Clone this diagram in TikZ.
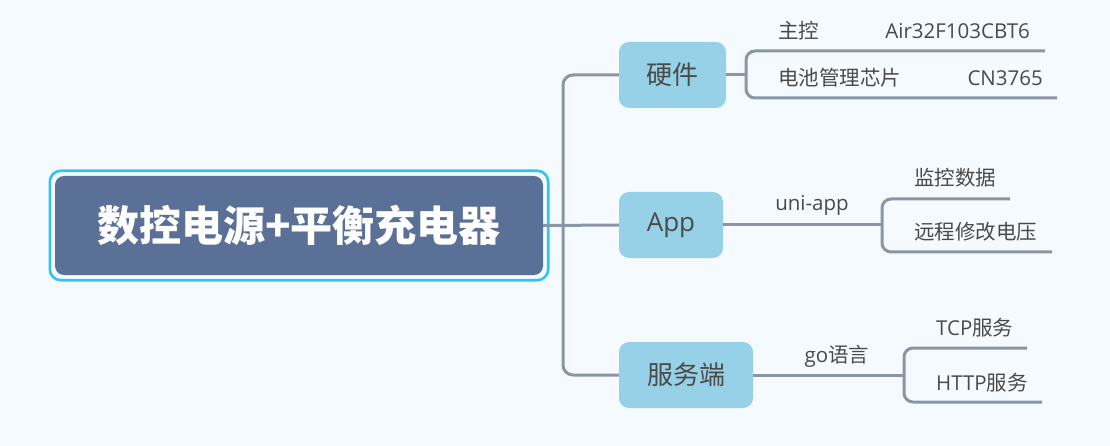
\documentclass[tikz,border=0pt]{standalone}
\usepackage{fontspec}
\setmainfont{Open Sans}
\newfontfamily\cjk{Noto Sans CJK SC}
\usetikzlibrary{calc}
\definecolor{bg}{HTML}{F5FAFE}
\definecolor{rootfill}{HTML}{5A7097}
\definecolor{rootborder}{HTML}{33C2F7}
\definecolor{boxfill}{HTML}{96D1E7}
\definecolor{linec}{HTML}{8B95A6}
\definecolor{txt}{HTML}{4A4A4A}
\begin{document}
\begin{tikzpicture}[x=1pt,y=-1pt,
  conn/.style={draw=linec,line width=3pt},
  rootbox/.style={fill=rootfill,rounded corners=9pt,minimum width=488pt,minimum height=99pt,inner sep=0pt,text=white,font=\cjk\bfseries\fontsize{42}{48}\selectfont},
  branch/.style={fill=boxfill,rounded corners=10pt,minimum height=66pt,inner sep=0pt,text=txt,font=\fontsize{26}{30}\selectfont},
  leaf/.style={inner sep=0pt,text=txt,font=\fontsize{20.5}{24}\selectfont}]
\useasboundingbox[fill=bg] (0,0) rectangle (1110,446);

% nodes
\node[rootbox] (root) at (299,225.5) {数控电源+平衡充电器};
\draw[draw=rootborder,line width=2.6pt,rounded corners=11pt]
  ($(root.south west)+(-5,5)$) rectangle ($(root.north east)+(5,-5)$);

\node[branch,minimum width=107pt] (hw) at (672.5,75) {\cjk 硬件};
\node[branch,minimum width=104pt] (app) at (671,225) {App};
\node[branch,minimum width=134pt] (srv) at (686,375) {\cjk 服务端};

% leaf texts
\node[leaf,anchor=west] (mcu) at (778,31) {\cjk 主控};
\node[leaf,anchor=east] (mcuv) at (1030,31) {Air32F103CBT6};
\node[leaf,anchor=west] (bms) at (778,78) {\cjk 电池管理芯片};
\node[leaf,anchor=east] (bmsv) at (1043,78) {CN3765};

\node[leaf] (uni) at (812,205) {uni-app};
\node[leaf,anchor=west] (mon) at (914,178) {\cjk 监控数据};
\node[leaf,anchor=west] (rem) at (914,232) {\cjk 远程修改电压};

\node[leaf] (go) at (837,356) {go{\cjk 语言}};
\node[leaf,anchor=west] (tcp) at (936,328) {TCP{\cjk 服务}};
\node[leaf,anchor=west] (http) at (936,383) {HTTP{\cjk 服务}};

% coordinates
\coordinate (hwb) at (746,75);
\coordinate (hwt) at (1045,51);
\coordinate (hwl) at (1057,98);
\coordinate (appb) at (882,225);
\coordinate (appt) at (1010,199);
\coordinate (appl) at (1052,252);
\coordinate (srvb) at (904,375);
\coordinate (srvt) at (1027,348);
\coordinate (srvl) at (1042,402);

% connectors
\draw[conn] (root.east) -- (app.west);
\draw[conn,rounded corners=10pt] (hw.west) -- (563,75) -- (563,375) -- (srv.west);

\draw[conn] (hw.east) -- (hwb);
\draw[conn,rounded corners=9pt] (hwt) -- (hwb |- hwt) -- (hwb |- hwl) -- (hwl);

\draw[conn] (app.east) -- (appb);
\draw[conn,rounded corners=9pt] (appt) -- (appb |- appt) -- (appb |- appl) -- (appl);

\draw[conn] (srv.east) -- (srvb);
\draw[conn,rounded corners=9pt] (srvt) -- (srvb |- srvt) -- (srvb |- srvl) -- (srvl);
\end{tikzpicture}
\end{document}
